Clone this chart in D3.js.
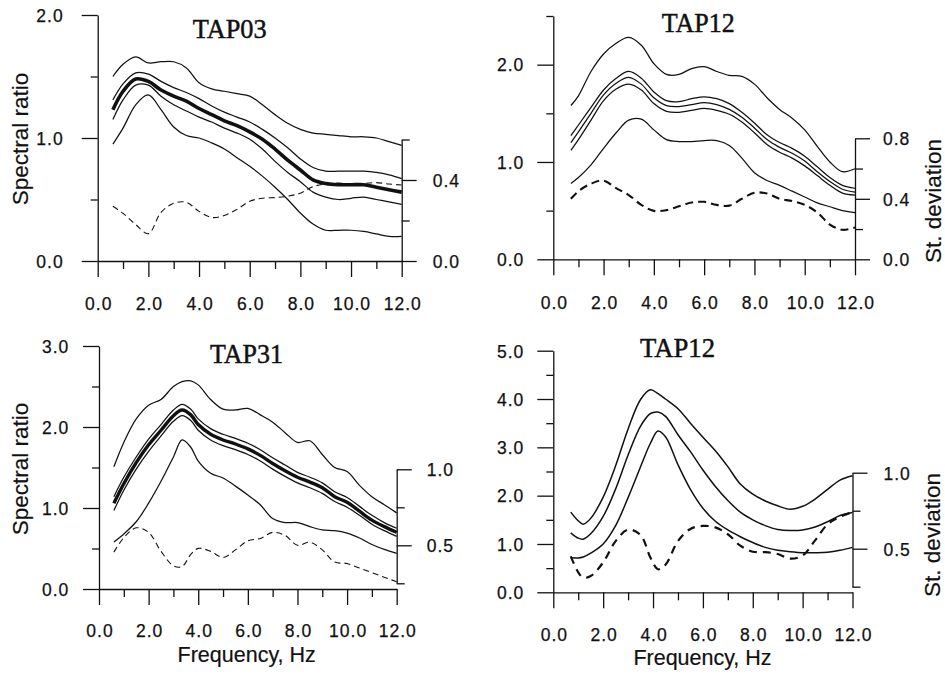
<!DOCTYPE html>
<html>
<head>
<meta charset="utf-8">
<script src="https://cdn.jsdelivr.net/npm/d3@7"></script>
<style>
  html, body { margin: 0; padding: 0; background: #fff; }
  svg { display: block; }
  .tick-label { font-family: "Liberation Sans", Arial, sans-serif; font-size: 17.5px; letter-spacing: 1px; fill: #111; stroke: #111; stroke-width: 0.25px; }
  .axis-title { font-family: "Liberation Sans", Arial, sans-serif; font-size: 22.5px; fill: #111; stroke: #111; stroke-width: 0.2px; }
  .panel-title { font-family: "Liberation Serif", "Times New Roman", serif; font-size: 28px; fill: #111; stroke: #111; stroke-width: 0.5px; }
</style>
</head>
<body>
<svg id="chart" width="945" height="674"></svg>
<script>
// ---------- Station TAP03 ----------
const tap03Freq      = [0.6, 1.0, 1.5, 2.0, 2.5, 3.0, 3.5, 4.0, 4.5, 5.0, 5.5, 6.0, 6.5, 7.0, 7.5, 8.0, 8.5, 9.0, 9.5, 10.0, 10.5, 11.0, 11.5, 12.0];
const tap03OuterHigh = [1.50, 1.60, 1.66, 1.61, 1.62, 1.62, 1.57, 1.45, 1.40, 1.38, 1.36, 1.34, 1.27, 1.19, 1.12, 1.07, 1.04, 1.03, 1.02, 1.01, 1.01, 1.00, 0.97, 0.94];
const tap03InnerHigh = [1.31, 1.44, 1.53, 1.52, 1.46, 1.41, 1.37, 1.32, 1.26, 1.21, 1.17, 1.13, 1.07, 1.00, 0.92, 0.83, 0.76, 0.73, 0.73, 0.73, 0.73, 0.72, 0.70, 0.67];
const tap03Mean      = [1.23, 1.38, 1.48, 1.46, 1.39, 1.34, 1.30, 1.24, 1.19, 1.14, 1.10, 1.05, 0.99, 0.91, 0.82, 0.74, 0.66, 0.63, 0.62, 0.62, 0.62, 0.60, 0.58, 0.56];
const tap03InnerLow  = [1.15, 1.31, 1.43, 1.43, 1.34, 1.27, 1.22, 1.17, 1.13, 1.08, 1.04, 0.99, 0.91, 0.81, 0.72, 0.645, 0.56, 0.52, 0.50, 0.51, 0.52, 0.50, 0.48, 0.46];
const tap03OuterLow  = [0.95, 1.08, 1.27, 1.35, 1.23, 1.09, 1.02, 1.00, 0.96, 0.91, 0.84, 0.77, 0.69, 0.60, 0.50, 0.39, 0.30, 0.25, 0.25, 0.25, 0.24, 0.22, 0.20, 0.20];
const tap03Std       = [0.27, 0.235, 0.18, 0.135, 0.24, 0.285, 0.29, 0.245, 0.215, 0.225, 0.255, 0.295, 0.31, 0.313, 0.32, 0.335, 0.367, 0.38, 0.385, 0.38, 0.383, 0.387, 0.38, 0.375];

// ---------- Station TAP12 (upper panel) ----------
const tap12aFreq      = [0.7, 1.0, 1.5, 2.0, 2.5, 3.0, 3.5, 4.0, 4.5, 5.0, 5.5, 6.0, 6.5, 7.0, 7.5, 8.0, 8.5, 9.0, 9.5, 10.0, 10.5, 11.0, 11.5, 12.0];
const tap12aOuterHigh = [1.58, 1.68, 1.93, 2.11, 2.22, 2.28, 2.20, 2.01, 1.90, 1.90, 1.96, 1.98, 1.93, 1.89, 1.88, 1.80, 1.66, 1.54, 1.45, 1.33, 1.16, 1.00, 0.90, 0.93];
const tap12aInnerHigh = [1.27, 1.38, 1.56, 1.74, 1.86, 1.93, 1.86, 1.72, 1.63, 1.62, 1.65, 1.67, 1.65, 1.60, 1.51, 1.40, 1.28, 1.20, 1.14, 1.06, 0.95, 0.84, 0.76, 0.73];
const tap12aMean      = [1.20, 1.31, 1.50, 1.69, 1.81, 1.87, 1.80, 1.66, 1.58, 1.57, 1.59, 1.61, 1.59, 1.54, 1.46, 1.35, 1.23, 1.15, 1.09, 1.01, 0.90, 0.80, 0.72, 0.69];
const tap12aInnerLow  = [1.12, 1.23, 1.43, 1.63, 1.75, 1.80, 1.74, 1.60, 1.52, 1.51, 1.53, 1.55, 1.53, 1.49, 1.41, 1.30, 1.18, 1.10, 1.04, 0.96, 0.86, 0.76, 0.68, 0.66];
const tap12aOuterLow  = [0.78, 0.84, 0.97, 1.14, 1.30, 1.43, 1.44, 1.33, 1.23, 1.21, 1.21, 1.22, 1.22, 1.17, 1.04, 0.89, 0.81, 0.76, 0.70, 0.64, 0.58, 0.54, 0.50, 0.48];
const tap12aStd       = [0.40, 0.45, 0.50, 0.52, 0.47, 0.425, 0.36, 0.32, 0.325, 0.35, 0.375, 0.38, 0.36, 0.355, 0.40, 0.44, 0.435, 0.40, 0.385, 0.36, 0.31, 0.23, 0.195, 0.21];

// ---------- Station TAP31 ----------
const tap31Freq      = [0.6, 1.0, 1.5, 2.0, 2.5, 3.0, 3.35, 3.7, 4.0, 4.5, 5.0, 5.5, 6.0, 6.5, 7.0, 7.5, 8.0, 8.5, 9.0, 9.5, 10.0, 10.5, 11.0, 11.5, 12.0];
const tap31OuterHigh = [1.51, 1.81, 2.10, 2.27, 2.34, 2.50, 2.56, 2.57, 2.52, 2.34, 2.22, 2.21, 2.23, 2.15, 2.06, 1.93, 1.81, 1.83, 1.66, 1.50, 1.45, 1.28, 1.14, 1.04, 0.94];
const tap31InnerHigh = [1.14, 1.38, 1.63, 1.85, 2.03, 2.21, 2.28, 2.22, 2.10, 1.98, 1.91, 1.86, 1.80, 1.72, 1.62, 1.53, 1.44, 1.38, 1.31, 1.20, 1.13, 1.02, 0.91, 0.82, 0.75];
const tap31Mean      = [1.06, 1.30, 1.56, 1.78, 1.96, 2.14, 2.21, 2.15, 2.03, 1.91, 1.84, 1.79, 1.73, 1.65, 1.55, 1.46, 1.38, 1.32, 1.25, 1.14, 1.07, 0.96, 0.85, 0.77, 0.70];
const tap31InnerLow  = [0.97, 1.22, 1.48, 1.70, 1.89, 2.07, 2.14, 2.08, 1.96, 1.84, 1.77, 1.72, 1.66, 1.58, 1.48, 1.39, 1.31, 1.25, 1.18, 1.08, 1.01, 0.91, 0.80, 0.72, 0.65];
const tap31OuterLow  = [0.58, 0.68, 0.83, 1.06, 1.33, 1.63, 1.84, 1.75, 1.58, 1.43, 1.37, 1.27, 1.16, 1.04, 0.87, 0.82, 0.82, 0.77, 0.73, 0.72, 0.69, 0.63, 0.55, 0.49, 0.44];
const tap31Std       = [0.455, 0.55, 0.615, 0.585, 0.46, 0.365, 0.36, 0.44, 0.48, 0.46, 0.42, 0.47, 0.53, 0.545, 0.585, 0.565, 0.50, 0.52, 0.47, 0.39, 0.38, 0.35, 0.32, 0.29, 0.26];

// ---------- Station TAP12 (lower panel) ----------
const tap12bFreq  = [0.7, 1.0, 1.2, 1.5, 2.0, 2.5, 3.0, 3.5, 3.9, 4.2, 4.5, 5.0, 5.5, 6.0, 6.5, 7.0, 7.5, 8.0, 8.5, 9.0, 9.5, 10.0, 10.5, 11.0, 11.5, 12.0];
const tap12bHigh  = [1.66, 1.48, 1.41, 1.53, 1.97, 2.62, 3.38, 3.99, 4.19, 4.11, 4.00, 3.80, 3.50, 3.21, 2.93, 2.60, 2.24, 2.03, 1.89, 1.79, 1.72, 1.78, 1.93, 2.13, 2.32, 2.41];
const tap12bMean  = [1.23, 1.12, 1.10, 1.21, 1.57, 2.14, 2.84, 3.44, 3.70, 3.73, 3.64, 3.26, 2.91, 2.53, 2.19, 1.90, 1.66, 1.50, 1.38, 1.30, 1.28, 1.29, 1.35, 1.46, 1.59, 1.65];
const tap12bLow   = [0.72, 0.71, 0.73, 0.81, 1.00, 1.38, 1.96, 2.60, 3.09, 3.34, 3.22, 2.64, 2.13, 1.74, 1.47, 1.29, 1.15, 1.03, 0.93, 0.87, 0.84, 0.82, 0.82, 0.83, 0.87, 0.93];
const tap12bStd   = [0.45, 0.345, 0.31, 0.32, 0.41, 0.55, 0.625, 0.59, 0.44, 0.365, 0.395, 0.55, 0.63, 0.65, 0.64, 0.595, 0.52, 0.48, 0.477, 0.465, 0.435, 0.455, 0.555, 0.66, 0.71, 0.74];

// ---------- Axis tick values ----------
const freqMajorTicks = [0, 2, 4, 6, 8, 10, 12];
const freqMinorTicks = [1, 3, 5, 7, 9, 11];

// Panel descriptions: data references plus layout
const panels = [
  {
    title: "TAP03", freq: tap03Freq,
    thin: [tap03OuterHigh, tap03InnerHigh, tap03InnerLow, tap03OuterLow], thinWidth: 1.25,
    mean: tap03Mean, meanWidth: 3.6, std: tap03Std,
    dash: "6,4", dashWidth: 1.1,
    yMax: 2, yMajor: [0, 1, 2], yMinor: [0.5, 1.5],
    sDomain: [0, 0.6], sMajor: [0, 0.4], sMinor: [0.2, 0.6],
    x0: 97.7, x1: 401.7, yBottom: 261, yTop: 15, sBottom: 261, sTop: 139.5,
    leftGap: 35, rightGap: 31, xLabelY: 310,
    titleX: 229.7, titleY: 38.3, titleLen: 74,
    yTitle: { x: 28, y: 139 }, sTitle: null, xTitle: null
  },
  {
    title: "TAP12", freq: tap12aFreq,
    thin: [tap12aOuterHigh, tap12aInnerHigh, tap12aMean, tap12aInnerLow, tap12aOuterLow], thinWidth: 1.25,
    mean: null, meanWidth: 0, std: tap12aStd,
    dash: "8,5", dashWidth: 2.1,
    yMax: 2.5, yMajor: [0, 1, 2], yMinor: [0.5, 1.5, 2.5],
    sDomain: [0, 0.8], sMajor: [0, 0.4, 0.8], sMinor: [0.2, 0.6],
    x0: 553.3, x1: 855, yBottom: 259.3, yTop: 16, sBottom: 259.3, sTop: 138.3,
    leftGap: 30, rightGap: 28, xLabelY: 309,
    titleX: 698.3, titleY: 31.7, titleLen: 73,
    yTitle: null, sTitle: { x: 941, y: 201 }, xTitle: null
  },
  {
    title: "TAP31", freq: tap31Freq,
    thin: [tap31OuterHigh, tap31InnerHigh, tap31InnerLow, tap31OuterLow], thinWidth: 1.25,
    mean: tap31Mean, meanWidth: 3.4, std: tap31Std,
    dash: "6,4", dashWidth: 1.1,
    yMax: 3, yMajor: [0, 1, 2, 3], yMinor: [0.5, 1.5, 2.5],
    sDomain: [0.25, 1.0], sMajor: [0.5, 1.0], sMinor: [0.25, 0.75],
    x0: 99, x1: 396.7, yBottom: 589, yTop: 346, sBottom: 583.3, sTop: 469.3,
    leftGap: 30.7, rightGap: 30, xLabelY: 637,
    titleX: 246.5, titleY: 363.3, titleLen: 73,
    yTitle: { x: 28, y: 469 }, sTitle: null, xTitle: { x: 246.7, y: 661.7 }
  },
  {
    title: "TAP12", freq: tap12bFreq,
    thin: [tap12bHigh, tap12bMean, tap12bLow], thinWidth: 1.5,
    mean: null, meanWidth: 0, std: tap12bStd,
    dash: "8,6", dashWidth: 2.2,
    yMax: 5, yMajor: [0, 1, 2, 3, 4, 5], yMinor: [0.5, 1.5, 2.5, 3.5, 4.5],
    sDomain: [0.25, 1.0], sMajor: [0.5, 1.0], sMinor: [0.25, 0.75],
    x0: 553.3, x1: 852.5, yBottom: 592.3, yTop: 350.7, sBottom: 586.7, sTop: 472.7,
    leftGap: 30, rightGap: 31, xLabelY: 641,
    titleX: 677.5, titleY: 356.5, titleLen: 75,
    yTitle: null, sTitle: { x: 940, y: 535 }, xTitle: { x: 702.5, y: 665 }
  }
];

const svg = d3.select("#chart");
const fmt = d3.format(".1f");
const INK = "#111";

function styleAxis(sel) {
  sel.attr("font-family", null).attr("font-size", null);
  sel.selectAll("path.domain").attr("stroke", INK).attr("stroke-width", 1.3);
  sel.selectAll(".tick line").attr("stroke", INK).attr("stroke-width", 1.3);
  sel.selectAll(".tick text").attr("class", "tick-label").attr("fill", INK);
}

panels.forEach(p => {
  const g = svg.append("g");
  const x = d3.scaleLinear().domain([0, 12]).range([p.x0, p.x1]);
  const y = d3.scaleLinear().domain([0, p.yMax]).range([p.yBottom, p.yTop]);
  const s = d3.scaleLinear().domain(p.sDomain).range([p.sBottom, p.sTop]);

  // frequency axis: labelled even ticks, short odd ticks
  const xMajor = g.append("g").attr("transform", `translate(0,${p.yBottom})`)
    .call(d3.axisBottom(x).tickValues(freqMajorTicks).tickSizeInner(16).tickSizeOuter(0).tickFormat(fmt));
  styleAxis(xMajor);
  xMajor.selectAll(".tick text").attr("y", p.xLabelY - p.yBottom).attr("dy", 0).attr("dx", 0.5);
  const xMinor = g.append("g").attr("transform", `translate(0,${p.yBottom})`)
    .call(d3.axisBottom(x).tickValues(freqMinorTicks).tickSizeInner(8).tickSizeOuter(0).tickFormat(""));
  xMinor.select(".domain").remove();
  styleAxis(xMinor);

  // spectral ratio axis (left)
  const yMajorAx = g.append("g").attr("transform", `translate(${p.x0},0)`)
    .call(d3.axisLeft(y).tickValues(p.yMajor).tickSizeInner(16).tickSizeOuter(0).tickFormat(fmt));
  styleAxis(yMajorAx);
  yMajorAx.selectAll(".tick text").attr("x", -p.leftGap + 1).attr("dy", "0.36em");
  const yMinorAx = g.append("g").attr("transform", `translate(${p.x0},0)`)
    .call(d3.axisLeft(y).tickValues(p.yMinor).tickSizeInner(7).tickSizeOuter(0).tickFormat(""));
  yMinorAx.select(".domain").remove();
  styleAxis(yMinorAx);

  // standard deviation axis (right)
  const sMajorAx = g.append("g").attr("transform", `translate(${p.x1},0)`)
    .call(d3.axisRight(s).tickValues(p.sMajor).tickSizeInner(15).tickSizeOuter(0).tickFormat(fmt));
  styleAxis(sMajorAx);
  sMajorAx.selectAll(".tick text").attr("x", p.rightGap).attr("dy", "0.36em");
  const sMinorAx = g.append("g").attr("transform", `translate(${p.x1},0)`)
    .call(d3.axisRight(s).tickValues(p.sMinor).tickSizeInner(8).tickSizeOuter(0).tickFormat(""));
  sMinorAx.select(".domain").remove();
  styleAxis(sMinorAx);

  // curves
  const ratioLine = d3.line()
    .x((d, i) => x(p.freq[i]))
    .y(d => y(d))
    .curve(d3.curveCatmullRom.alpha(0.5));
  const stdLine = d3.line()
    .x((d, i) => x(p.freq[i]))
    .y(d => s(d))
    .curve(d3.curveCatmullRom.alpha(0.5));

  p.thin.forEach(series => {
    g.append("path").datum(series).attr("d", ratioLine)
      .attr("fill", "none").attr("stroke", INK).attr("stroke-width", p.thinWidth)
      .attr("stroke-linejoin", "round");
  });
  if (p.mean) {
    g.append("path").datum(p.mean).attr("d", ratioLine)
      .attr("fill", "none").attr("stroke", INK).attr("stroke-width", p.meanWidth)
      .attr("stroke-linejoin", "round");
  }
  g.append("path").datum(p.std).attr("d", stdLine)
    .attr("fill", "none").attr("stroke", INK).attr("stroke-width", p.dashWidth)
    .attr("stroke-dasharray", p.dash);

  // titles
  g.append("text").attr("class", "panel-title")
    .attr("x", p.titleX).attr("y", p.titleY)
    .attr("text-anchor", "middle")
    .attr("textLength", p.titleLen).attr("lengthAdjust", "spacingAndGlyphs")
    .text(p.title);

  if (p.yTitle) {
    g.append("text").attr("class", "axis-title")
      .attr("transform", `translate(${p.yTitle.x},${p.yTitle.y}) rotate(-90)`)
      .attr("text-anchor", "middle")
      .text("Spectral ratio");
  }
  if (p.sTitle) {
    g.append("text").attr("class", "axis-title")
      .attr("transform", `translate(${p.sTitle.x},${p.sTitle.y}) rotate(-90)`)
      .attr("text-anchor", "middle")
      .text("St. deviation");
  }
  if (p.xTitle) {
    g.append("text").attr("class", "axis-title")
      .attr("x", p.xTitle.x).attr("y", p.xTitle.y)
      .attr("text-anchor", "middle")
      .style("font-size", "21.5px")
      .text("Frequency, Hz");
  }
});
</script>
</body>
</html>
